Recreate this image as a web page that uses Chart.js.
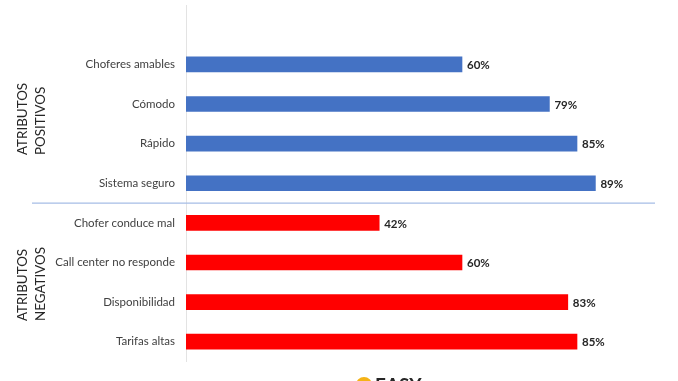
<!DOCTYPE html>
<html>
<head>
<meta charset="utf-8">
<style>
  html, body { margin: 0; padding: 0; background: #fff; overflow: hidden; }
  canvas { display: block; }
</style>
<script src="https://cdn.jsdelivr.net/npm/chart.js@4"></script>
</head>
<body>
<canvas id="atributosChart" width="678" height="381"></canvas>
<script>
// primera fila vacia: el eje empieza una banda por encima de las barras
const categorias = ["", "Choferes amables", "Cómodo", "Rápido", "Sistema seguro",
  "Chofer conduce mal", "Call center no responde", "Disponibilidad", "Tarifas altas"];
const valores = [null, 60, 79, 85, 89, 42, 60, 83, 85];
const colores = ["#4472c4", "#4472c4", "#4472c4", "#4472c4", "#4472c4",
  "#ff0000", "#ff0000", "#ff0000", "#ff0000"];
const gruposPositivos = ["ATRIBUTOS", "POSITIVOS"];
const gruposNegativos = ["ATRIBUTOS", "NEGATIVOS"];
const logoTexto = "EASY";

const fuente = "Lato, 'Open Sans', sans-serif";

// etiquetas de porcentaje al final de cada barra
const etiquetasBarras = {
  id: "etiquetasBarras",
  afterDatasetsDraw(chart) {
    const ctx = chart.ctx;
    const barras = chart.getDatasetMeta(0).data;
    ctx.save();
    ctx.font = "bold 11.5px " + fuente;
    ctx.fillStyle = "#262626";
    ctx.textAlign = "left";
    ctx.textBaseline = "middle";
    barras.forEach((barra, i) => {
      if (valores[i] === null) return;
      ctx.fillText(valores[i] + "%", barra.x + 5, barra.y + 1);
    });
    ctx.restore();
  }
};

// linea separadora, textos de grupo y logo recortado abajo
const decoracion = {
  id: "decoracion",
  afterDraw(chart) {
    const ctx = chart.ctx;
    const y = chart.scales.y;
    const ySep = (y.getPixelForValue(4) + y.getPixelForValue(5)) / 2;

    ctx.save();
    ctx.strokeStyle = "#a6bde6";
    ctx.lineWidth = 1.2;
    ctx.beginPath();
    ctx.moveTo(32, ySep);
    ctx.lineTo(655, ySep);
    ctx.stroke();
    ctx.restore();

    function grupo(lineas, yBase) {
      ctx.save();
      ctx.translate(0, yBase);
      ctx.rotate(-Math.PI / 2);
      ctx.font = "13.4px " + fuente;
      ctx.fillStyle = "#262626";
      ctx.textAlign = "left";
      ctx.textBaseline = "middle";
      ctx.fillText(lineas[0], 0, 23);
      ctx.fillText(lineas[1], 0, 41);
      ctx.restore();
    }
    grupo(gruposPositivos, 155);
    grupo(gruposNegativos, 321);

    ctx.save();
    ctx.fillStyle = "#f5b316";
    ctx.beginPath();
    ctx.arc(364, 385, 8, 0, Math.PI * 2);
    ctx.fill();
    ctx.font = "bold 19px " + fuente;
    ctx.fillStyle = "#262626";
    ctx.textBaseline = "alphabetic";
    ctx.fillText(logoTexto, 375, 392);
    ctx.restore();
  }
};

new Chart(document.getElementById("atributosChart"), {
  type: "bar",
  data: {
    labels: categorias,
    datasets: [{
      data: valores,
      backgroundColor: colores,
      barThickness: 15
    }]
  },
  options: {
    indexAxis: "y",
    responsive: false,
    animation: false,
    layout: { padding: { top: 5, bottom: 19.5, right: 32 } },
    plugins: {
      legend: { display: false },
      title: { display: false },
      tooltip: { enabled: false }
    },
    scales: {
      x: { display: false, min: 0, max: 100 },
      y: {
        afterFit(scale) {
          scale.width = 186;
          scale.paddingTop = 0;
          scale.paddingBottom = 0;
        },
        grid: { display: false, drawTicks: false },
        border: { display: true, color: "#e3e3e3", width: 1 },
        ticks: {
          autoSkip: false,
          padding: 11,
          color: "#404040",
          font: { family: fuente, size: 11.5 }
        }
      }
    }
  },
  plugins: [etiquetasBarras, decoracion]
});
</script>
</body>
</html>
